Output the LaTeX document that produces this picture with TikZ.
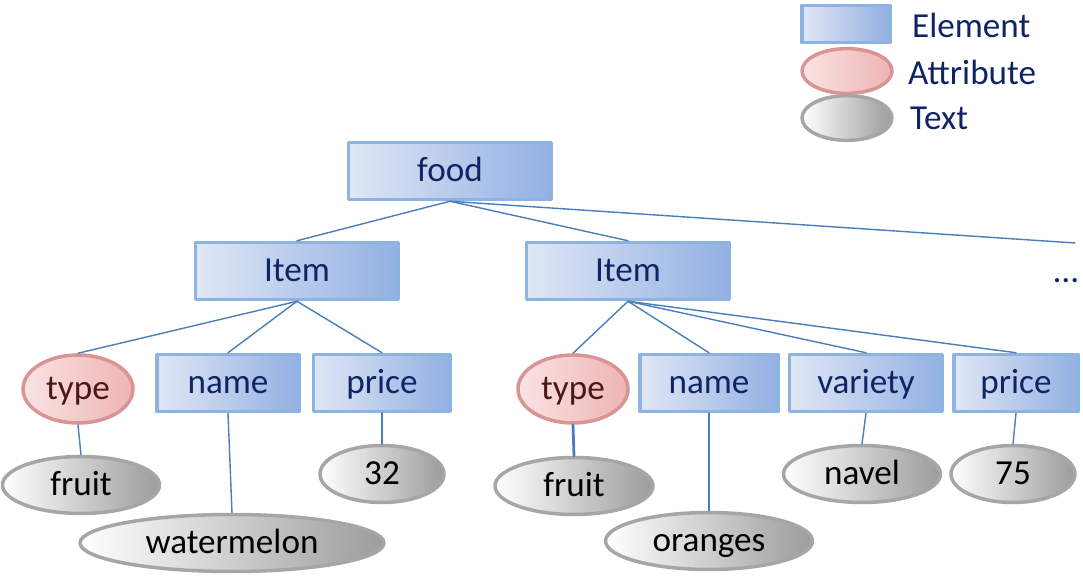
\documentclass[tikz,border=0pt]{standalone}
\usepackage{fontspec}
\setmainfont{Carlito}
\usetikzlibrary{shapes.geometric}

% ---------- colours ----------
\definecolor{elemL}{HTML}{E0E7F5}
\definecolor{elemR}{HTML}{92B0E2}
\definecolor{elemline}{HTML}{8DB3E2}
\definecolor{attrL}{HTML}{FAE3E3}
\definecolor{attrR}{HTML}{EEB4B4}
\definecolor{attrline}{HTML}{D99594}
\definecolor{txtR}{HTML}{9C9C9C}
\definecolor{txtline}{HTML}{A6A6A6}
\definecolor{navy}{HTML}{0F2464}
\definecolor{brownish}{HTML}{4A1616}
\definecolor{linkcol}{HTML}{4A7EBB}

\begin{document}
\begin{tikzpicture}[
  x=0.02cm,
  y=-0.02cm,
  line join=round,
  line cap=round,
  font=\fontsize{20}{24}\selectfont,
  node base/.style={inner sep=0pt, text height=15pt, text depth=3pt},
  elem/.style={node base, rectangle, draw=elemline, line width=2pt, shading=axis,
    left color=elemL, right color=elemR, text=navy, minimum height=1.14cm},
  attr/.style={node base, ellipse, draw=attrline, line width=2pt, shading=axis,
    left color=attrL, right color=attrR, text=brownish,
    minimum width=2.2cm, minimum height=1.36cm},
  txt/.style={node base, ellipse, draw=txtline, line width=2pt, shading=axis,
    left color=white, right color=txtR, text=black, minimum height=1.14cm},
  link/.style={draw=linkcol, line width=0.8pt},
  heavy/.style={link, line width=1.6pt}
]
\useasboundingbox (0,0) rectangle (1083,577);

% ---------- legend ----------
\node[elem, minimum width=1.76cm, minimum height=0.74cm] (legelem) at (846,24) {};
\node[attr, minimum width=1.8cm, minimum height=0.74cm] (legattr) at (847,71) {};
\node[txt, minimum width=1.8cm, minimum height=0.76cm] (legtxt) at (847,118) {};
\node[anchor=west, text=navy] (legelemlbl) at (906,25) {Element};
\node[anchor=west, text=navy] (legattrlbl) at (902,72) {Attribute};
\node[anchor=west, text=navy] (legtxtlbl) at (904,118) {Text};

% ---------- elements ----------
\node[elem, minimum width=4.06cm] (food) at (450,171) {food};
\node[elem, minimum width=4.06cm] (item1) at (297,271) {Item};
\node[elem, minimum width=4.06cm] (item2) at (628,271) {Item};
\node[anchor=base, text=navy] (more) at (1066,283) {\dots};
\coordinate (morecon) at (1075,243);

\node[attr] (type1) at (78,389) {type};
\node[elem, minimum width=2.84cm] (name1) at (228,383) {name};
\node[elem, minimum width=2.74cm] (price1) at (382,383) {price};

\node[attr] (type2) at (573,389) {type};
\node[elem, minimum width=2.76cm] (name2) at (709,383) {name};
\node[elem, minimum width=3.06cm] (variety) at (866,383) {variety};
\node[elem, minimum width=2.48cm] (price2) at (1016,383) {price};

% ---------- text values ----------
\node[txt, minimum width=3.14cm] (fruit1) at (81,485) {fruit};
\node[txt, minimum width=6.08cm] (melon) at (232,543) {watermelon};
\node[txt, minimum width=2.48cm] (val32) at (382,474) {32};
\node[txt, minimum width=3.16cm] (fruit2) at (574,486) {fruit};
\node[txt, minimum width=4.14cm] (orange) at (709,541) {oranges};
\node[txt, minimum width=3.14cm] (navel) at (862,474) {navel};
\node[txt, minimum width=2.48cm] (val75) at (1013,474) {75};

% ---------- links ----------
\draw[link] (food.south) -- (item1.north);
\draw[link] (food.south) -- (item2.north);
\draw[link] (food.south) -- (morecon);

\draw[link] (item1.south) -- (type1.north);
\draw[link] (item1.south) -- (name1.north);
\draw[link] (item1.south) -- (price1.north);

\draw[link] (item2.south) -- (type2.north);
\draw[link] (item2.south) -- (name2.north);
\draw[link] (item2.south) -- (variety.north);
\draw[link] (item2.south) -- (price2.north);

\draw[link] (type1.south) -- (fruit1.north);
\draw[link] (name1.south) -- (melon.north);
\draw[heavy] (price1.south) -- (val32.north);
\draw[heavy] (type2.south) -- (fruit2.north);
\draw[link] (name2.south) -- (orange.north);
\draw[link] (variety.south) -- (navel.north);
\draw[link] (price2.south) -- (val75.north);

\end{tikzpicture}
\end{document}
